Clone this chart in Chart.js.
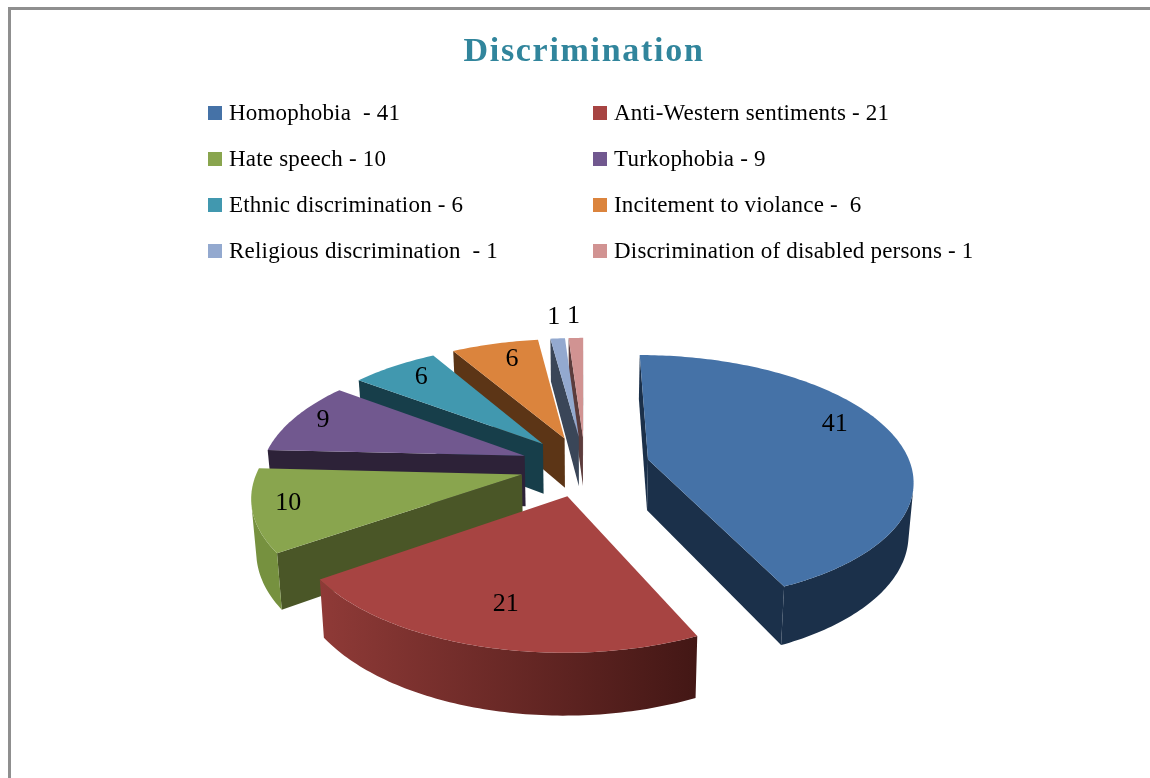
<!DOCTYPE html>
<html>
<head>
<meta charset="utf-8">
<script src="https://cdn.jsdelivr.net/npm/chart.js@4/dist/chart.umd.min.js"></script>
<style>
  html, body { margin: 0; padding: 0; background: #fff; overflow: hidden; }
  #wrap { position: relative; width: 1150px; height: 778px; }
  #frame { position: absolute; left: 8px; top: 7px; width: 1200px; height: 800px; border: 3px solid #8f8f8f; box-sizing: border-box; }
  canvas { position: absolute; left: 0; top: 0; }
  #legend { position: absolute; left: 0; top: 0; font-family: "Liberation Serif", serif; font-size: 23px; letter-spacing: 0.2px; color: #000; }
  .item { position: absolute; white-space: pre; line-height: 24px; }
  .box { position: absolute; width: 14px; height: 14px; left: -21px; top: 5px; }
</style>
</head>
<body>
<div id="wrap">
  <div id="frame"></div>
  <canvas id="pie" width="1150" height="778"></canvas>
  <div id="legend"></div>
</div>
<script>
const categories = ['Homophobia  - 41', 'Anti-Western sentiments - 21', 'Hate speech - 10', 'Turkophobia - 9',
  'Ethnic discrimination - 6', 'Incitement to violance -  6', 'Religious discrimination  - 1', 'Discrimination of disabled persons - 1'];
const values = [41, 21, 10, 9, 6, 6, 1, 1];

const topColors = ['#4572a7', '#a74442', '#89a54e', '#71588f', '#4198af', '#db843d', '#93a9cf', '#d19392'];
const rimColors = [['#1b304a', '#1b304a'], ['#8f3a37', '#431715'], ['#76913f', '#76913f'], ['#5d4878', '#5d4878'],
  ['#30798f', '#30798f'], ['#b56c30', '#b56c30'], ['#7a8dab', '#7a8dab'], ['#a87776', '#a87776']];
const cutColors = ['#1b304a', '#431715', '#4a5627', '#2d2238', '#173e4a', '#5c3516', '#3a4658', '#5c3c3c'];

// where each number sits inside its slice
const labelRadius = [0.82, 0.75, 0.87, 0.88, 0.83, 0.81, 1.255, 1.255];
const labelAngle = [0.4375, 0.496, 0.53, 0.52, 0.565, 0.575, 0.53, 0.45];

// fake 3D view of the flat pie
const view = { cx: 585, cy: 466, tilt: 0.465, persp: 0.00058, depth: 51, shrink: 0.0003 };

function project(x, y, h) {
  const w = 1 / (1 - view.persp * y);
  return [view.cx + x * w * (1 - h * view.shrink), view.cy + (y * view.tilt + h) * w];
}

function fillPoly(ctx, pts, fill) {
  ctx.beginPath();
  pts.forEach((p, i) => i ? ctx.lineTo(p[0], p[1]) : ctx.moveTo(p[0], p[1]));
  ctx.closePath();
  ctx.fillStyle = fill;
  ctx.fill();
}

// true when the quad winds towards the viewer
function facing(pts) {
  let area = 0;
  pts.forEach((p, i) => {
    const q = pts[(i + 1) % pts.length];
    area += p[0] * q[1] - q[0] * p[1];
  });
  return area < 0;
}

function drawSlice(ctx, arc, i) {
  const mid = (arc.startAngle + arc.endAngle) / 2;
  const ox = arc.options.offset * Math.cos(mid);
  const oy = arc.options.offset * Math.sin(mid);
  const R = arc.outerRadius;
  const rim = [];
  const steps = Math.max(6, Math.round((arc.endAngle - arc.startAngle) * 60));
  for (let s = 0; s <= steps; s++) {
    const a = arc.startAngle + (arc.endAngle - arc.startAngle) * s / steps;
    rim.push([ox + R * Math.cos(a), oy + R * Math.sin(a)]);
  }
  const d = view.depth;
  const topRim = rim.map(p => project(p[0], p[1], 0));
  const botRim = rim.map(p => project(p[0], p[1], d));
  const apexTop = project(ox, oy, 0);
  const apexBot = project(ox, oy, d);
  const last = rim.length - 1;

  const startCut = [apexTop, topRim[0], botRim[0], apexBot];
  const endCut = [topRim[last], apexTop, apexBot, botRim[last]];
  if (facing(startCut)) fillPoly(ctx, startCut, cutColors[i]);
  if (facing(endCut)) fillPoly(ctx, endCut, cutColors[i]);

  const xs = topRim.map(p => p[0]);
  const grad = ctx.createLinearGradient(Math.min(...xs), 0, Math.max(...xs), 0);
  grad.addColorStop(0, rimColors[i][0]);
  grad.addColorStop(1, rimColors[i][1]);
  // the visible part of the outer wall, as one run so no seams show
  let from = -1, to = -1;
  for (let s = 0; s < last; s++) {
    if (facing([topRim[s], topRim[s + 1], botRim[s + 1], botRim[s]])) {
      if (from < 0) from = s;
      to = s + 1;
    }
  }
  if (from >= 0) {
    fillPoly(ctx, topRim.slice(from, to + 1).concat(botRim.slice(from, to + 1).reverse()), grad);
  }
  fillPoly(ctx, [apexTop].concat(topRim), arc.options.backgroundColor);
}

const pie3d = {
  id: 'pie3d',
  beforeDraw(chart) {
    chart.ctx.letterSpacing = '1.7px';
  },
  beforeDatasetsDraw(chart) {
    const ctx = chart.ctx;
    ctx.letterSpacing = '0px';
    const arcs = chart.getDatasetMeta(0).data;
    // back slices first
    const order = arcs.map((a, i) => i).sort((p, q) =>
      Math.sin((arcs[p].startAngle + arcs[p].endAngle) / 2) - Math.sin((arcs[q].startAngle + arcs[q].endAngle) / 2));
    ctx.save();
    order.forEach(i => drawSlice(ctx, arcs[i], i));
    ctx.font = '26px "Liberation Serif", serif';
    ctx.fillStyle = '#000';
    ctx.textAlign = 'center';
    ctx.textBaseline = 'middle';
    arcs.forEach((arc, i) => {
      const mid = (arc.startAngle + arc.endAngle) / 2;
      const a = arc.startAngle + (arc.endAngle - arc.startAngle) * labelAngle[i];
      const r = arc.outerRadius * labelRadius[i];
      const p = project(arc.options.offset * Math.cos(mid) + r * Math.cos(a), arc.options.offset * Math.sin(mid) + r * Math.sin(a), 0);
      ctx.fillText(values[i], p[0], p[1]);
    });
    ctx.restore();
    return false;
  }
};

new Chart(document.getElementById('pie'), {
  type: 'pie',
  data: {
    labels: categories,
    datasets: [{ data: values, backgroundColor: topColors, offset: 65, borderWidth: 0 }]
  },
  options: {
    responsive: false,
    animation: false,
    radius: 263,
    layout: { padding: { left: 18 } },
    plugins: {
      legend: { display: false },
      tooltip: { enabled: false },
      title: {
        display: true,
        text: 'Discrimination',
        color: '#31859c',
        font: { family: '"Liberation Serif", serif', size: 34, weight: 'bold' },
        padding: { top: 32, bottom: 10 }
      }
    }
  },
  plugins: [pie3d]
});

// two column legend, filled row by row
const legendEl = document.getElementById('legend');
categories.forEach((label, i) => {
  const item = document.createElement('div');
  item.className = 'item';
  item.style.left = (i % 2 ? 614 : 229) + 'px';
  item.style.top = (101 + 46 * Math.floor(i / 2)) + 'px';
  item.textContent = label;
  const box = document.createElement('span');
  box.className = 'box';
  box.style.background = topColors[i];
  item.appendChild(box);
  legendEl.appendChild(item);
});
</script>
</body>
</html>
